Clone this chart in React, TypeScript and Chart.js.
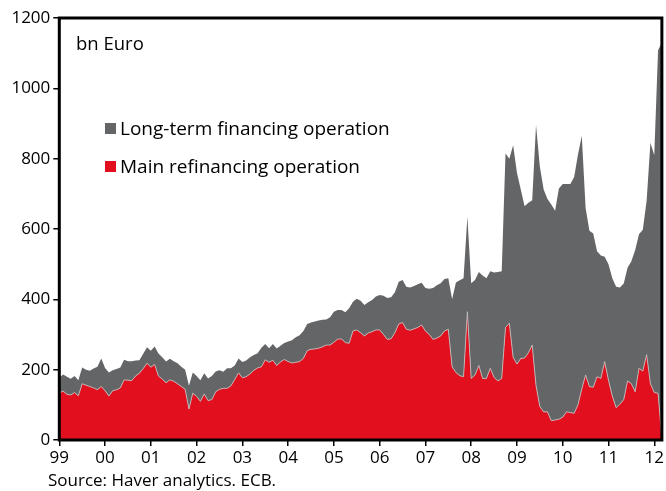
import React, { useEffect, useRef } from 'react';
import { Chart, registerables } from 'chart.js';

Chart.register(...registerables);

// Monthly data, Jan 1999 (index 0) .. Mar 2012 (index 158), bn Euro
const yearLabels = ['99', '00', '01', '02', '03', '04', '05', '06', '07', '08', '09', '10', '11', '12'];

const mainRefi = [
  133, 139, 130, 128, 135, 126, 160, 156, 152, 148, 143, 152,
  140, 125, 140, 143, 148, 171, 170, 169, 182, 190, 203, 218,
  207, 215, 182, 173, 163, 171, 167, 160, 152, 144, 88, 133,
  124, 110, 131, 112, 115, 137, 144, 147, 147, 154, 172, 191,
  177, 180, 188, 198, 205, 208, 228, 221, 227, 212, 222, 229,
  223, 219, 221, 223, 232, 254, 258, 259, 261, 265, 270, 270,
  278, 287, 287, 277, 275, 310, 313, 305, 296, 304, 308, 313,
  313, 300, 286, 288, 305, 330, 334, 315, 312, 316, 320, 327,
  310, 300, 286, 290, 296, 310, 315, 208, 192, 183, 180, 365,
  175, 185, 212, 175, 175, 204, 178, 168, 175, 320, 332, 235,
  216, 232, 233, 248, 270, 155, 95, 80, 80, 55, 57, 59,
  65, 80, 78, 76, 100, 145, 185, 152, 150, 180, 175, 223,
  170, 125, 92, 102, 115, 168, 160, 137, 204, 196, 243, 160,
  135, 133, 5,
];

const longTerm = [
  45, 47, 50, 46, 47, 44, 46, 44, 45, 55, 65, 80,
  65, 67, 58, 59, 58, 57, 54, 55, 44, 37, 42, 46,
  47, 51, 64, 62, 60, 60, 57, 58, 56, 56, 66, 59,
  58, 60, 59, 63, 67, 58, 54, 47, 57, 50, 40, 41,
  45, 46, 47, 44, 42, 54, 45, 40, 46, 48, 46, 47,
  57, 65, 71, 75, 78, 76, 76, 78, 79, 77, 73, 79,
  87, 83, 83, 86, 100, 83, 89, 91, 88, 88, 90, 95,
  99, 110, 118, 118, 115, 120, 121, 121, 122, 122, 123, 120,
  122, 130, 146, 150, 150, 148, 145, 192, 256, 271, 280, 270,
  271, 270, 266, 293, 285, 276, 298, 310, 305, 495, 468, 603,
  544, 480, 432, 427, 412, 741, 682, 632, 605, 615, 595, 656,
  663, 648, 650, 672, 712, 720, 475, 443, 437, 357, 350, 298,
  330, 335, 344, 332, 330, 322, 348, 403, 381, 402, 437, 685,
  675, 975, 1125,
];

const legendLong = 'Long-term financing operation';
const legendMain = 'Main refinancing operation';
const unitLabel = 'bn Euro';
const sourceText = 'Source: Haver analytics. ECB.';

const RED = '#e2101e';
const GRAY = '#646567';
const FONT = "'Open Sans', sans-serif";

const framePlugin = {
  id: 'frame',
  afterDatasetsDraw(chart: any) {
    const { ctx, chartArea: a } = chart;
    ctx.save();
    ctx.strokeStyle = '#000';
    ctx.lineWidth = 3;
    ctx.strokeRect(a.left, a.top, a.right - a.left, a.bottom - a.top);
    ctx.restore();
  },
};

export default function App() {
  const ref = useRef<HTMLCanvasElement | null>(null);

  useEffect(() => {
    if (!ref.current) return;
    const chart = new Chart(ref.current, {
      type: 'line',
      data: {
        datasets: [
          {
            label: legendMain,
            data: mainRefi.map((v, i) => ({ x: i, y: v })),
            backgroundColor: RED,
            borderColor: 'rgba(190,190,190,0.9)',
            borderWidth: 1,
            pointRadius: 0,
            fill: 'origin',
            tension: 0,
          },
          {
            label: legendLong,
            data: longTerm.map((v, i) => ({ x: i, y: v })),
            backgroundColor: GRAY,
            borderColor: GRAY,
            borderWidth: 0,
            pointRadius: 0,
            fill: '-1',
            tension: 0,
          },
        ],
      },
      options: {
        animation: false,
        responsive: false,
        devicePixelRatio: 1,
        layout: { padding: { top: 18, right: 2.3, left: 0, bottom: 0 } },
        plugins: {
          legend: { display: false },
          tooltip: { enabled: false },
        },
        scales: {
          x: {
            type: 'linear',
            min: 0,
            max: 158,
            afterFit: (s: any) => {
              s.height = 51;
            },
            border: { display: false },
            grid: {
              display: true,
              drawOnChartArea: false,
              drawTicks: true,
              tickLength: 6,
              color: '#000',
              lineWidth: 1.5,
            },
            ticks: {
              stepSize: 12,
              includeBounds: false,
              autoSkip: false,
              maxRotation: 0,
              padding: 2,
              color: '#000',
              font: { family: FONT, size: 17 },
              callback: (v: any) => {
                const n = Number(v);
                return n % 12 === 0 ? yearLabels[n / 12] : '';
              },
            },
          },
          y: {
            stacked: true,
            min: 0,
            max: 1200,
            afterFit: (s: any) => {
              s.width = 59.3;
            },
            border: { display: false },
            grid: {
              display: true,
              drawOnChartArea: false,
              drawTicks: true,
              tickLength: 6,
              color: '#000',
              lineWidth: 1.5,
            },
            ticks: {
              stepSize: 200,
              padding: 3,
              color: '#000',
              font: { family: FONT, size: 17 },
              callback: (v: any) => String(v),
            },
          },
        },
      },
      plugins: [framePlugin],
    });
    return () => chart.destroy();
  }, []);

  const txt: React.CSSProperties = {
    position: 'absolute',
    fontFamily: FONT,
    color: '#000',
    whiteSpace: 'nowrap',
  };

  return (
    <div style={{ position: 'fixed', left: 0, top: 0, width: 666, height: 491, background: '#fff' }}>
      <canvas ref={ref} width={666} height={491} style={{ width: 666, height: 491, display: 'block' }} />
      <div style={{ ...txt, left: 76, top: 31, fontSize: 18.5, lineHeight: '24px' }}>{unitLabel}</div>
      <div style={{ position: 'absolute', left: 105, top: 123, width: 11, height: 11, background: GRAY }} />
      <div style={{ ...txt, left: 120, top: 116, fontSize: 19, lineHeight: '24px' }}>{legendLong}</div>
      <div style={{ position: 'absolute', left: 105, top: 161, width: 11, height: 11, background: RED }} />
      <div style={{ ...txt, left: 120, top: 154, fontSize: 19, lineHeight: '24px' }}>{legendMain}</div>
      <div style={{ ...txt, left: 48, top: 469, fontSize: 17, lineHeight: '22px' }}>{sourceText}</div>
    </div>
  );
}
